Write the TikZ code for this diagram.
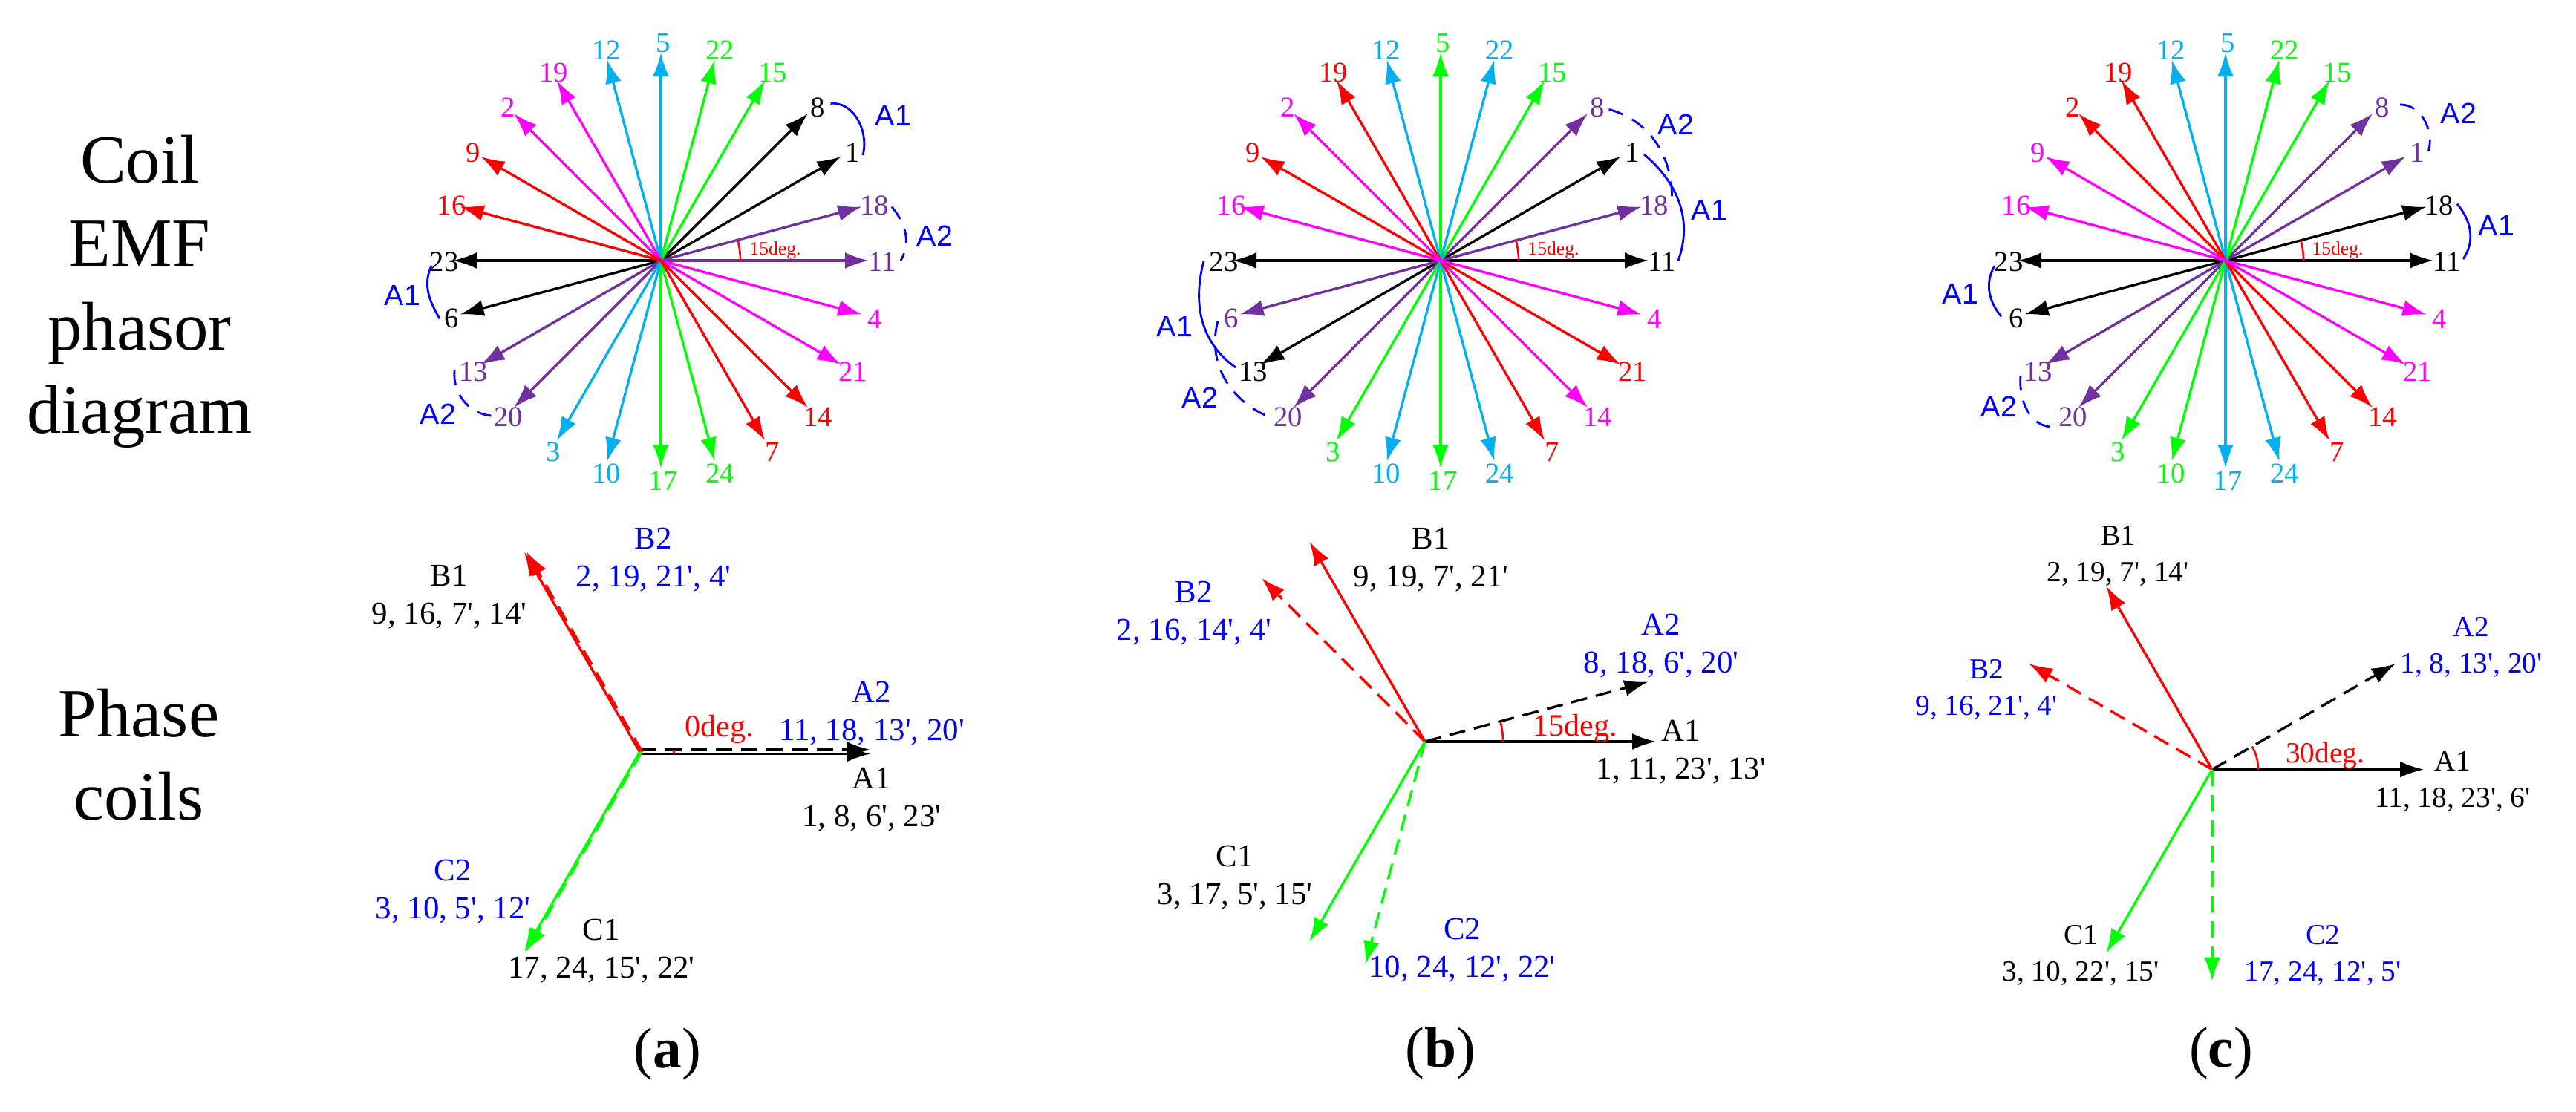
\documentclass[tikz,border=0pt]{standalone}
\usepackage{fontspec}
\setmainfont{Liberation Serif}[Ligatures=TeXOff]
\newfontfamily\armfont{Liberation Sans}
\usetikzlibrary{arrows.meta,calc}
\definecolor{coilred}{RGB}{255,0,0}
\definecolor{coilgreen}{RGB}{0,255,0}
\definecolor{coilmag}{RGB}{255,0,255}
\definecolor{coilsky}{RGB}{0,176,240}
\definecolor{coilpur}{RGB}{112,48,160}
\definecolor{coilblue}{RGB}{0,0,255}
\tikzset{
    spoke/.style={->,line width=.95pt},
    num/.style={inner sep=0pt,font=\fontsize{11}{13}\selectfont},
    wind/.style={coilblue,line width=.8pt},
    windd/.style={wind,dash pattern=on 2mm off 1.4mm},
    armlbl/.style={inner sep=0pt,text=coilblue,font=\armfont\fontsize{11.2}{13}\selectfont},
    arcm/.style={coilred,line width=.75pt},
    smalldeg/.style={inner sep=0pt,text=coilred,font=\fontsize{7.3}{9}\selectfont},
    bigdeg/.style={inner sep=0pt,text=coilred,font=\fontsize{12}{14}\selectfont},
    phasel/.style={->,line width=.95pt},
    phased/.style={phasel,dash pattern=on 2.2mm off 1.2mm},
    lbl/.style={inner sep=0pt,align=center,font=\fontsize{12.2}{14.6}\selectfont},
    lblc/.style={inner sep=0pt,align=center,font=\fontsize{11.2}{13.7}\selectfont},
    sub/.style={inner sep=0pt,font=\fontsize{22}{26}\selectfont},
    rowtxt/.style={inner sep=0pt,align=center,font=\fontsize{26.4}{32}\selectfont},
}
\begin{document}
\begin{tikzpicture}[>={Latex[length=3.2mm,width=2.2mm]}]
    \useasboundingbox (0,0) rectangle (34.69,14.98);

    \node[rowtxt] (rowemf) at (1.88,11.05) {Coil\\EMF\\phasor\\diagram};
    \node[rowtxt] (rowcoil) at (1.87,4.81) {Phase\\coils};

    \coordinate (oa) at (8.90,11.47);
    \foreach \col/\lst in {black/{1,8,23,6},coilpur/{18,11,13,20},coilgreen/{15,22,17,24},coilsky/{12,5,3,10},coilmag/{19,2,4,21},coilred/{9,16,14,7}}{
        \foreach \n in \lst {
            \pgfmathsetmacro\ang{30+105*(\n-1)}
            \coordinate (sa\n) at ($(oa)+(\ang:2.8)$);
            \node[num,text=\col] (na\n) at ($(oa)+(.03,-.02)+(\ang:2.95)$) {\n};
            \draw[spoke,\col] (oa)--(sa\n);
        }
    }
    \draw[arcm] ($(oa)+(1.07,0)$) arc (0:15:1.07);
    \node[smalldeg] (dega) at (10.44,11.61) {15deg.};
    \draw[wind] ([shift={(.17,.05)}]na8.center) to[out=5,in=75] ([shift={(.135,-.035)}]na1.center);
    \node[armlbl] (a1top) at (12.03,13.42) {A1};
    \draw[windd] ([shift={(.23,-.02)}]na18.center) to[out=-50,in=60] ([shift={(.25,.02)}]na11.center);
    \node[armlbl] (a2rgt) at (12.59,11.80) {A2};
    \draw[wind] ([shift={(-.17,-.05)}]na23.center) to[out=-115,in=120] ([shift={(-.16,0)}]na6.center);
    \node[armlbl] (a1lft) at (5.42,11.00) {A1};
    \draw[windd] ([shift={(-.255,.015)}]na13.center) to[out=-95,in=175] ([shift={(-.23,.016)}]na20.center);
    \node[armlbl] (a2lft) at (5.90,9.40) {A2};

    \coordinate (ob) at (19.40,11.47);
    \foreach \col/\lst in {black/{1,11,23,13},coilpur/{8,18,6,20},coilgreen/{15,5,3,17},coilsky/{22,12,10,24},coilred/{19,9,21,7},coilmag/{2,16,4,14}}{
        \foreach \n in \lst {
            \pgfmathsetmacro\ang{30+105*(\n-1)}
            \coordinate (sb\n) at ($(ob)+(\ang:2.8)$);
            \node[num,text=\col] (nb\n) at ($(ob)+(.03,-.02)+(\ang:2.95)$) {\n};
            \draw[spoke,\col] (ob)--(sb\n);
        }
    }
    \draw[arcm] ($(ob)+(1.05,0)$) arc (0:15:1.05);
    \node[smalldeg] (degb) at (20.92,11.61) {15deg.};
    \draw[windd] ([shift={(.15,-.03)}]nb8.center) to[out=-15,in=85] ([shift={(.23,-.02)}]nb18.center);
    \node[armlbl] (a2btop) at (22.57,13.30) {A2};
    \draw[wind] ([shift={(.155,-.025)}]nb1.center) to[out=-40,in=70] ([shift={(.22,.02)}]nb11.center);
    \node[armlbl] (a1brgt) at (23.02,12.15) {A1};
    \draw[wind] ([shift={(-.27,.01)}]nb23.center) to[out=-105,in=145] ([shift={(-.235,.055)}]nb13.center);
    \node[armlbl] (a1blft) at (15.82,10.58) {A1};
    \draw[windd] ([shift={(-.18,-.03)}]nb6.center) to[out=-105,in=155] ([shift={(-.31,.025)}]nb20.center);
    \node[armlbl] (a2blft) at (16.16,9.62) {A2};

    \coordinate (oc) at (29.97,11.47);
    \foreach \col/\lst in {black/{18,11,23,6},coilpur/{8,1,13,20},coilgreen/{22,15,3,10},coilsky/{5,12,17,24},coilred/{2,19,14,7},coilmag/{9,16,4,21}}{
        \foreach \n in \lst {
            \pgfmathsetmacro\ang{30+105*(\n-1)}
            \coordinate (sc\n) at ($(oc)+(\ang:2.8)$);
            \node[num,text=\col] (nc\n) at ($(oc)+(.03,-.02)+(\ang:2.95)$) {\n};
            \draw[spoke,\col] (oc)--(sc\n);
        }
    }
    \draw[arcm] ($(oc)+(1.05,0)$) arc (0:15:1.05);
    \node[smalldeg] (degc) at (31.48,11.61) {15deg.};
    \draw[windd] ([shift={(.235,.035)}]nc8.center) to[out=0,in=75] ([shift={(.15,.025)}]nc1.center);
    \node[armlbl] (a2ctop) at (33.11,13.45) {A2};
    \draw[wind] ([shift={(.24,.02)}]nc18.center) to[out=-50,in=55] ([shift={(.22,.04)}]nc11.center);
    \node[armlbl] (a1crgt) at (33.62,11.94) {A1};
    \draw[wind] ([shift={(-.19,-.05)}]nc23.center) to[out=-120,in=130] ([shift={(-.20,.03)}]nc6.center);
    \node[armlbl] (a1clft) at (26.40,11.02) {A1};
    \draw[windd] ([shift={(-.235,-.055)}]nc13.center) to[out=-95,in=180] ([shift={(-.27,-.135)}]nc20.center);
    \node[armlbl] (a2clft) at (26.92,9.50) {A2};

    \coordinate (pa) at (8.615,4.85);
    \coordinate (tipA1a) at ($(pa)+(0:3.11)$);
    \coordinate (tipB1a) at ($(pa)+(120:3.11)$);
    \coordinate (tipC1a) at ($(pa)+(240:3.11)$);
    \draw[phasel] ([yshift=-.25mm]pa)--([yshift=-.25mm]tipA1a);
    \draw[phased] ([yshift=.3mm]pa)--([yshift=.3mm]tipA1a);
    \draw[phasel,coilred] (pa)--(tipB1a);
    \draw[phased,coilred] ([xshift=.35mm]pa)--([xshift=.35mm]tipB1a);
    \draw[phasel,coilgreen] (pa)--(tipC1a);
    \draw[phased,coilgreen] ([xshift=.25mm]pa)--([xshift=.25mm]tipC1a);
    \draw[arcm] ($(pa)+(.46,-.02)$) arc (-2:3:.46);
    \node[bigdeg] (zerodeg) at (9.69,5.16) {0deg.};
    \node[lbl,text=coilblue] (a2a) at (11.74,5.37) {A2\\11, 18, 13', 20'};
    \node[lbl] (a1a) at (11.74,4.21) {A1\\1, 8, 6', 23'};
    \node[lbl,text=coilblue] (b2a) at (8.80,7.44) {B2\\2, 19, 21', 4'};
    \node[lbl] (b1a) at (6.05,6.94) {B1\\9, 16, 7', 14'};
    \node[lbl,text=coilblue] (c2a) at (6.10,2.97) {C2\\3, 10, 5', 12'};
    \node[lbl] (c1a) at (8.10,2.17) {C1\\17, 24, 15', 22'};
    \node[sub] (suba) at (8.99,.78) {(\textbf{a})};

    \coordinate (pb) at (19.19,4.99);
    \coordinate (tipA1b) at ($(pb)+(0:3.11)$);
    \coordinate (tipA2b) at ($(pb)+(15:3.11)$);
    \coordinate (tipB1b) at ($(pb)+(120:3.11)$);
    \coordinate (tipB2b) at ($(pb)+(135:3.11)$);
    \coordinate (tipC1b) at ($(pb)+(240:3.11)$);
    \coordinate (tipC2b) at ($(pb)+(255:3.11)$);
    \draw[phasel] (pb)--(tipA1b);
    \draw[phased] (pb)--(tipA2b);
    \draw[phasel,coilred] (pb)--(tipB1b);
    \draw[phased,coilred] (pb)--(tipB2b);
    \draw[phasel,coilgreen] (pb)--(tipC1b);
    \draw[phased,coilgreen] (pb)--(tipC2b);
    \draw[arcm] ($(pb)+(1.05,0)$) arc (0:15:1.05);
    \node[bigdeg] (fifdeg) at (21.21,5.17) {15deg.};
    \node[lbl,text=coilblue] (a2b) at (22.37,6.28) {A2\\8, 18, 6', 20'};
    \node[lbl] (a1b) at (22.64,4.85) {A1\\1, 11, 23', 13'};
    \node[lbl] (b1b) at (19.27,7.44) {B1\\9, 19, 7', 21'};
    \node[lbl,text=coilblue] (b2b) at (16.08,6.72) {B2\\2, 16, 14', 4'};
    \node[lbl] (c1b) at (16.63,3.16) {C1\\3, 17, 5', 15'};
    \node[lbl,text=coilblue] (c2b) at (19.69,2.18) {C2\\10, 24, 12', 22'};
    \node[sub] (subb) at (19.40,.79) {(\textbf{b})};

    \coordinate (pc) at (29.79,4.614);
    \coordinate (tipA1c) at ($(pc)+(0:2.85)$);
    \coordinate (tipA2c) at ($(pc)+(30:2.85)$);
    \coordinate (tipB1c) at ($(pc)+(120:2.85)$);
    \coordinate (tipB2c) at ($(pc)+(150:2.85)$);
    \coordinate (tipC1c) at ($(pc)+(240:2.85)$);
    \coordinate (tipC2c) at ($(pc)+(270:2.85)$);
    \draw[phasel] (pc)--(tipA1c);
    \draw[phased] (pc)--(tipA2c);
    \draw[phasel,coilred] (pc)--(tipB1c);
    \draw[phased,coilred] (pc)--(tipB2c);
    \draw[phasel,coilgreen] (pc)--(tipC1c);
    \draw[phased,coilgreen] (pc)--(tipC2c);
    \draw[arcm] ($(pc)+(.62,0)$) arc (0:30:.62);
    \node[bigdeg,font=\fontsize{11.2}{13}\selectfont] (thirdeg) at (31.31,4.80) {30deg.};
    \node[lblc,text=coilblue] (a2c) at (33.28,6.26) {A2\\1, 8, 13', 20'};
    \node[lblc] (a1c) at (33.03,4.45) {A1\\11, 18, 23', 6'};
    \node[lblc] (b1c) at (28.52,7.49) {B1\\2, 19, 7', 14'};
    \node[lblc,text=coilblue] (b2c) at (26.75,5.69) {B2\\9, 16, 21', 4'};
    \node[lblc] (c1c) at (28.02,2.11) {C1\\3, 10, 22', 15'};
    \node[lblc,text=coilblue] (c2c) at (31.28,2.11) {C2\\17, 24, 12', 5'};
    \node[sub] (subc) at (29.91,.79) {(\textbf{c})};
\end{tikzpicture}
\end{document}
